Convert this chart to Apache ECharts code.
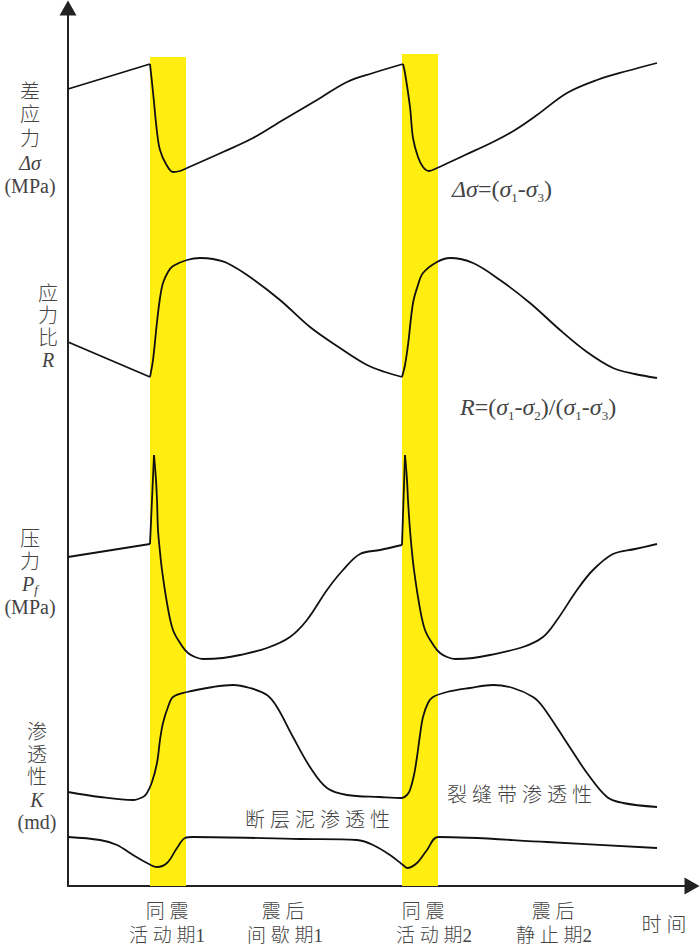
<!DOCTYPE html>
<html><head><meta charset="utf-8">
<script src="https://cdn.jsdelivr.net/npm/echarts@6/dist/echarts.min.js"></script>
<style>html,body{margin:0;padding:0;background:#fff}#c{width:700px;height:944px}</style>
</head><body><div id="c"></div>
<script>
// Time runs along x (0 = origin), values are heights above the time axis (relative units).
const diffStress = [[0,797],[82,822],[85,794],[89,754],[92,736],[98,722],[105,714],[112,715],[119,718],[155,734],[185,748],[215,766],[249,786],[279,804],[305,813],[335,822],[337,813],[342,779],[345,748],[350,729],[355,719],[361,715],[369,718],[397,731],[425,744],[447,756],[469,771],[499,793],[529,806],[559,815],[589,823]];
const diffStressCorners = [1, 15];

const stressRatio = [[0,544],[82,509],[85,526],[89,564],[92,588],[95,603],[100,614],[105,620],[119,626],[132,628],[145,627],[159,623],[182,609],[212,586],[242,559],[272,538],[299,521],[317,514],[334,509],[337,521],[340,541],[345,583],[350,601],[355,613],[369,624],[382,628],[405,623],[432,606],[462,583],[492,556],[519,534],[545,518],[567,512],[589,508]];
const stressRatioCorners = [1, 18];

const porePressure = [[0,329],[82,342],[86,431],[88,406],[89,386],[90,356],[92,334],[94,316],[99,283],[105,256],[114,240],[120,233],[127,229],[135,227],[155,228],[172,231],[199,238],[222,249],[239,266],[259,296],[275,316],[292,332],[312,336],[334,341],[337,431],[339,406],[340,386],[342,356],[344,334],[346,316],[351,283],[357,256],[366,240],[372,233],[379,229],[387,227],[405,228],[422,231],[455,239],[475,249],[489,266],[509,296],[525,316],[545,332],[567,337],[589,342]];
const porePressureCorners = [1, 2, 23, 24];

const fracturePerm = [[0,94],[32,89],[65,86],[75,89],[79,93],[84,104],[89,123],[92,146],[95,163],[100,179],[105,189],[119,194],[145,199],[165,201],[182,198],[199,191],[209,179],[225,149],[242,119],[259,98],[279,91],[312,89],[334,88],[339,91],[342,96],[346,111],[349,129],[352,151],[355,169],[360,183],[365,189],[379,194],[402,198],[425,201],[445,198],[465,189],[475,179],[499,143],[519,113],[539,89],[555,83],[589,79]];
const fracturePermCorners = [];

const gougePerm = [[0,49],[32,46],[49,41],[65,31],[79,23],[89,19],[99,23],[109,38],[117,48],[125,49],[232,47],[289,46],[305,41],[322,31],[335,21],[339,18],[349,23],[359,36],[370,49],[479,44],[589,38]];
const gougePermCorners = [];

const coseismicStart = [82, 334];
const coseismicEnd = [118, 370];
const coseismicTop = [829, 832];

const phaseTop = ['同 震', '震 后', '同 震', '震 后'];
const phaseBottom = ['活 动 期1', '间 歇 期1', '活 动 期2', '静 止 期2'];
const timeLabel = '时 间';

// ---------- rendering ----------
const chart = echarts.init(document.getElementById('c'), null, {renderer: 'svg'});
const SERIF = "'Liberation Serif','Noto Sans CJK SC'";
const TXT = '#444';

function pieces(data, corners) {
  const cuts = [0].concat(corners, [data.length - 1]);
  const out = [];
  for (let i = 0; i < cuts.length - 1; i++) out.push(data.slice(cuts[i], cuts[i + 1] + 1));
  return out;
}
const curves = [
  [diffStress, diffStressCorners],
  [stressRatio, stressRatioCorners],
  [porePressure, porePressureCorners],
  [fracturePerm, fracturePermCorners],
  [gougePerm, gougePermCorners]
];
const series = [{
  type: 'line', data: [[0, 0]], showSymbol: false, silent: true,
  lineStyle: {opacity: 0},
  markArea: {
    silent: true,
    itemStyle: {color: '#FFEE10', opacity: 1},
    data: coseismicStart.map((s, i) => [{xAxis: s, yAxis: 0}, {xAxis: coseismicEnd[i], yAxis: coseismicTop[i]}])
  }
}];
curves.forEach(([d, c]) => {
  pieces(d, c).forEach(p => series.push({
    type: 'line', data: p, showSymbol: false, silent: true,
    smooth: p.length > 2 ? 0.35 : false,
    lineStyle: {color: '#111', width: 1.8}
  }));
});

function makeRich(fs, formula) {
  const sub = Math.round(fs * 0.55);
  if (formula) {
    const lh = Math.round(fs * 1.3);
    return {
      i: {fontStyle: 'italic', fontFamily: SERIF, fontSize: fs, fill: TXT, lineHeight: lh, verticalAlign: 'middle'},
      n: {fontFamily: SERIF, fontSize: fs, fill: TXT, lineHeight: lh, verticalAlign: 'middle'},
      s: {fontSize: sub, fontFamily: SERIF, fill: TXT, lineHeight: sub, verticalAlign: 'bottom'}
    };
  }
  return {
    i: {fontStyle: 'italic', fontFamily: SERIF, fontSize: fs, fill: TXT},
    sf: {fontSize: Math.round(fs * 0.6) + 1, fontStyle: 'italic', fontFamily: SERIF, fill: TXT, verticalAlign: 'bottom', padding: [Math.round(fs * 0.4), 0, 0, 0]}
  };
}
function txt(x, y, text, o) {
  o = o || {};
  const fs = o.fontSize || 20;
  return {
    type: 'text', x: x, y: y, silent: true,
    style: {
      text: text, fill: TXT, fontFamily: SERIF, fontSize: fs, fontWeight: 300,
      align: o.align || 'center', textAlign: o.align || 'center',
      verticalAlign: 'middle', textVerticalAlign: 'middle',
      lineHeight: o.lineHeight || 24, rich: makeRich(fs, o.formula)
    }
  };
}
const graphics = [
  txt(30, 139, '差\n应\n力\n{i|Δσ}\n(MPa)', {lineHeight: 23.6}),
  txt(48, 327, '应\n力\n比\n{i|R}', {lineHeight: 22.3}),
  txt(30, 573, '压\n力\n{i|P}{sf|f}\n(MPa)', {lineHeight: 22.7}),
  txt(37, 777, '渗\n透\n性\n{i|K}\n(md)', {lineHeight: 22.5}),
  txt(452, 189, '{i|Δσ}{n|=(}{i|σ}{s|1}{n|-}{i|σ}{s|3}{n|)}', {align: 'left', fontSize: 24, formula: true}),
  txt(460, 407, '{i|R}{n|=(}{i|σ}{s|1}{n|-}{i|σ}{s|2}{n|)/(}{i|σ}{s|1}{n|-}{i|σ}{s|3}{n|)}', {align: 'left', fontSize: 24, formula: true}),
  txt(447, 795, '裂 缝 带 渗 透 性', {align: 'left', fontSize: 20}),
  txt(245, 820, '断 层 泥 渗 透 性', {align: 'left', fontSize: 20}),
  txt(664, 925, timeLabel, {fontSize: 20})
];
const topX = [167, 283, 423, 553], botX = [167, 285, 434, 554];
phaseTop.forEach((t, i) => graphics.push(txt(topX[i], 911, t, {fontSize: 19})));
phaseBottom.forEach((t, i) => graphics.push(txt(botX[i], 935, t, {fontSize: 19})));

const axisCommon = {
  type: 'value', min: 0,
  axisLabel: {show: false}, axisTick: {show: false}, splitLine: {show: false},
  axisLine: {show: true, onZero: false, symbol: ['none', 'triangle'], symbolSize: [17, 15],
    lineStyle: {color: '#222', width: 2}}
};
chart.setOption({
  animation: false,
  backgroundColor: '#fff',
  grid: {left: 68, right: 8, top: 8, bottom: 58},
  xAxis: Object.assign({}, axisCommon, {max: 624}),
  yAxis: Object.assign({}, axisCommon, {max: 878}),
  series: series,
  graphic: graphics
});
</script></body></html>
